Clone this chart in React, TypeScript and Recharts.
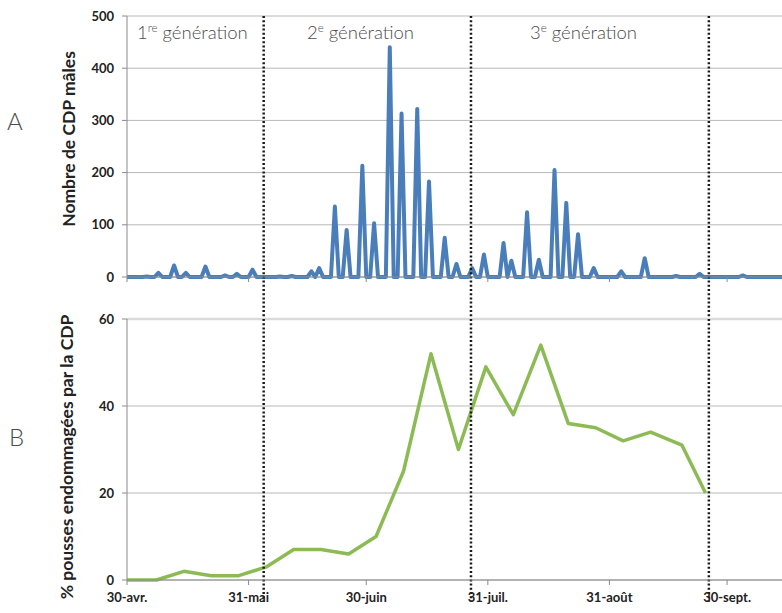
import { CartesianGrid, Line, LineChart, ReferenceLine, XAxis, YAxis } from "recharts"

// days counted from 30 April
const trapDays = [
  0, 4, 5, 6, 7, 8, 9, 11, 12, 13, 14, 15, 16, 19, 20, 21, 24, 25, 26, 27, 28, 29, 31, 32, 33,
  38, 39, 40, 41, 42, 43, 46, 47, 48, 49, 50, 52, 53, 54, 55, 56, 57, 59, 60, 61, 62, 63, 64,
  66, 67, 68, 69, 70, 71, 73, 74, 75, 76, 77, 78, 80, 81, 82, 83, 84, 85, 87, 88, 89, 90, 91, 92,
  95, 96, 97, 98, 99, 101, 102, 103, 104, 105, 106, 108, 109, 110, 111, 112, 113, 114, 115, 116,
  118, 119, 120, 125, 126, 127, 131, 132, 133, 139, 140, 141, 145, 146, 147, 156, 157, 158, 167,
]
const maleCounts = [
  0, 0, 1, 0, 0, 8, 0, 0, 22, 0, 0, 8, 0, 0, 20, 0, 0, 3, 0, 0, 6, 0, 0, 14, 0,
  0, 1, 0, 0, 2, 0, 0, 11, 0, 17, 0, 0, 135, 0, 0, 90, 0, 0, 213, 0, 0, 103, 0,
  0, 440, 0, 0, 313, 0, 0, 322, 0, 0, 183, 0, 0, 75, 0, 0, 25, 0, 0, 17, 0, 0, 43, 0,
  0, 65, 0, 31, 0, 0, 124, 0, 0, 33, 0, 0, 205, 0, 0, 142, 0, 0, 82, 0,
  0, 17, 0, 0, 11, 0, 0, 36, 0, 0, 2, 0, 0, 6, 0, 0, 3, 0, 0,
]

const sampleDays = [
  0, 7.5, 14.5, 21.5, 28.5, 35.5, 42.5, 49.5, 56.5, 63.5, 70.5, 77.5, 84.5, 91.5, 98.5, 105.5,
  112.5, 119.5, 126.5, 133.5, 141.5, 147.5,
]
const damagedShoots = [0, 0, 2, 1, 1, 3, 7, 7, 6, 10, 25, 52, 30, 49, 38, 54, 36, 35, 32, 34, 31, 20]

const monthDays = [0, 31, 61, 92, 123, 153]
const monthLabels = ["30-avr.", "31-mai", "30-juin", "31-juil.", "31-août", "30-sept."]
const countTicks = [0, 100, 200, 300, 400, 500]
const damageTicks = [0, 20, 40, 60]
const generationBreaks = [34.85, 87.7, 148.35]
const generations = [
  { n: "1", sup: "re", x: 137 },
  { n: "2", sup: "e", x: 307 },
  { n: "3", sup: "e", x: 530 },
]

const countData = trapDays.map((day, i) => ({ day, count: maleCounts[i] }))
const damageData = sampleDays.map((day, i) => ({ day, pct: damagedShoots[i] }))

const tickStyle = { fill: "#222", fontSize: 13, fontWeight: 700, fontFamily: "Lato" }
const axisColor = "#8a8a8a"
const dotted = { stroke: "#1a1a1a", strokeWidth: 2.5, strokeDasharray: "2 2.2" }

export default function App() {
  return (
    <div
      style={{
        position: "fixed",
        left: 0,
        top: 0,
        width: 782,
        height: 613,
        overflow: "hidden",
        background: "#fff",
      }}
    >
      <div style={{ position: "absolute", left: 0, top: 0 }}>
        <LineChart width={782} height={330} data={countData} margin={{ top: 16, right: 0, left: 0, bottom: 0 }}>
          <CartesianGrid vertical={false} stroke="#b8b8b8" />
          <XAxis
            type="number"
            dataKey="day"
            domain={[0, 167]}
            ticks={monthDays}
            interval={0}
            height={53}
            tickSize={5}
            tickFormatter={() => ""}
            axisLine={{ stroke: axisColor }}
            tickLine={{ stroke: axisColor }}
          />
          <YAxis
            domain={[0, 500]}
            ticks={countTicks}
            interval={0}
            width={127}
            tickSize={5}
            tickMargin={8}
            axisLine={{ stroke: axisColor }}
            tickLine={{ stroke: axisColor }}
            tick={tickStyle}
          />
          <Line
            type="linear"
            dataKey="count"
            stroke="#4a7ebb"
            strokeWidth={4}
            strokeLinejoin="round"
            dot={false}
            activeDot={false}
            isAnimationActive={false}
          />
          {generationBreaks.map((d) => (
            <ReferenceLine
              key={d}
              segment={[
                { x: d, y: 500 },
                { x: d, y: -82 },
              ]}
              ifOverflow="visible"
              {...dotted}
            />
          ))}
        </LineChart>
      </div>

      <div style={{ position: "absolute", left: 0, top: 290 }}>
        <LineChart width={782} height={323} data={damageData} margin={{ top: 29, right: 0, left: 0, bottom: 0 }}>
          <CartesianGrid vertical={false} stroke="#b8b8b8" />
          <ReferenceLine y={60} stroke="#dadada" strokeWidth={2.5} />
          <XAxis
            type="number"
            dataKey="day"
            domain={[0, 167]}
            ticks={monthDays}
            interval={0}
            height={33}
            tickSize={5}
            tickMargin={8}
            tickFormatter={(v: number) => monthLabels[monthDays.indexOf(v)]}
            axisLine={{ stroke: axisColor }}
            tickLine={{ stroke: axisColor }}
            tick={tickStyle}
          />
          <YAxis
            domain={[0, 60]}
            ticks={damageTicks}
            interval={0}
            width={127}
            tickSize={5}
            tickMargin={8}
            axisLine={{ stroke: axisColor }}
            tickLine={{ stroke: axisColor }}
            tick={tickStyle}
          />
          <Line
            type="linear"
            dataKey="pct"
            stroke="#8cbb56"
            strokeWidth={3.5}
            strokeLinejoin="round"
            dot={false}
            activeDot={false}
            isAnimationActive={false}
          />
          {generationBreaks.map((d) => (
            <ReferenceLine
              key={d}
              segment={[
                { x: d, y: 60 },
                { x: d, y: -5 },
              ]}
              ifOverflow="visible"
              {...dotted}
            />
          ))}
        </LineChart>
      </div>

      <svg
        width={782}
        height={613}
        style={{ position: "absolute", left: 0, top: 0, pointerEvents: "none" }}
      >
        <g fontFamily="Lato" fill="#4d4d4d" fontWeight={300}>
          <text x={7} y={129.5} fontSize={24}>A</text>
          <text x={9} y={445.5} fontSize={24}>B</text>
          {generations.map((g) => (
            <text key={g.n} x={g.x} y={39} fontSize={18.5}>
              {g.n}
              <tspan fontSize={11.5} dy={-7.5}>{g.sup}</tspan>
              <tspan dy={7.5}> génération</tspan>
            </text>
          ))}
        </g>
        <g fontFamily="Lato" fill="#222" fontWeight={700} fontSize={17.5} textAnchor="middle">
          <text transform="translate(75 139) rotate(-90)">Nombre de CDP mâles</text>
          <text transform="translate(73 457) rotate(-90)">% pousses endommagées par la CDP</text>
        </g>
      </svg>
    </div>
  )
}
